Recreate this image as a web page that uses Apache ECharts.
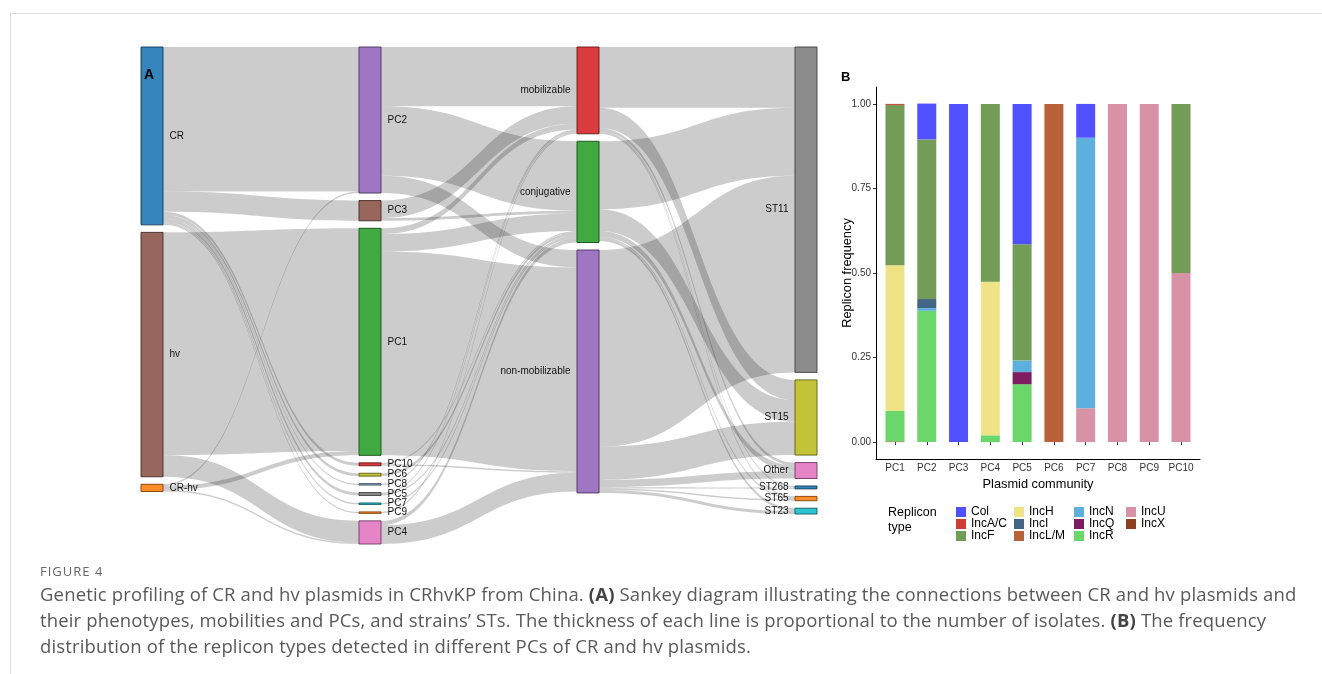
<!DOCTYPE html>
<html>
<head>
<meta charset="utf-8">
<title>Figure 4</title>
<script src="https://cdn.jsdelivr.net/npm/echarts@6/dist/echarts.min.js"></script>
<style>
    html, body { margin: 0; padding: 0; background: #fff; }
    #frame {
        position: absolute; left: 10px; top: 13px; width: 1312px; height: 661px;
        border-top: 1px solid #dcdcdc; border-left: 1px solid #dcdcdc;
    }
    #chart { position: absolute; left: 0; top: 0; width: 1322px; height: 674px; }
    #caption { position: absolute; left: 40px; top: 562px; font-family: 'Open Sans', sans-serif; color: #595959; white-space: nowrap; }
    #caption .fig { font-size: 13px; letter-spacing: 1px; line-height: 18px; color: #666; }
    #caption .txt { font-size: 18.5px; letter-spacing: 0.15px; line-height: 26px; margin-top: 1px; }
    #caption b { color: #444; }
</style>
</head>
<body>
<div id="frame"></div>
<div id="chart"></div>
<div id="caption">
    <div class="fig">FIGURE 4</div>
    <div class="txt">Genetic profiling of CR and hv plasmids in CRhvKP from China. <b>(A)</b> Sankey diagram illustrating the connections between CR and hv plasmids and<br>their phenotypes, mobilities and PCs, and strains’ STs. The thickness of each line is proportional to the number of isolates. <b>(B)</b> The frequency<br>distribution of the replicon types detected in different PCs of CR and hv plasmids.</div>
</div>
<script>
(function (window) {
    'use strict';

    // ---- panel A: sankey nodes, one array per column (top to bottom) ----
    var phenotypes = ['CR', 'hv', 'CR-hv'];
    var communities = ['PC2', 'PC3', 'PC1', 'PC10', 'PC6', 'PC8', 'PC5', 'PC7', 'PC9', 'PC4'];
    var mobilities = ['mobilizable', 'conjugative', 'non-mobilizable'];
    var strainTypes = ['ST11', 'ST15', 'Other', 'ST268', 'ST65', 'ST23'];

    // flows (number of isolates)
    var phenotypeToPc = [
        ['CR', 'PC2', 100], ['CR', 'PC3', 14],
        ['CR', 'PC10', 2], ['CR', 'PC6', 2], ['CR', 'PC8', 1],
        ['CR', 'PC5', 2], ['CR', 'PC7', 1], ['CR', 'PC9', 1],
        ['hv', 'PC1', 154], ['hv', 'PC4', 15],
        ['CR-hv', 'PC2', 1], ['CR-hv', 'PC1', 3], ['CR-hv', 'PC4', 1]
    ];
    var pcToMobility = [
        ['PC2', 'mobilizable', 41], ['PC2', 'conjugative', 48], ['PC2', 'non-mobilizable', 12],
        ['PC3', 'mobilizable', 12], ['PC3', 'conjugative', 2],
        ['PC1', 'mobilizable', 4], ['PC1', 'conjugative', 12], ['PC1', 'non-mobilizable', 141],
        ['PC10', 'conjugative', 1], ['PC10', 'non-mobilizable', 1],
        ['PC6', 'conjugative', 2],
        ['PC8', 'mobilizable', 1],
        ['PC5', 'mobilizable', 1], ['PC5', 'conjugative', 1],
        ['PC7', 'conjugative', 1],
        ['PC9', 'mobilizable', 1],
        ['PC4', 'conjugative', 3], ['PC4', 'non-mobilizable', 13]
    ];
    var mobilityToSt = [
        ['mobilizable', 'ST11', 42], ['mobilizable', 'ST15', 14], ['mobilizable', 'Other', 2],
        ['mobilizable', 'ST268', 1], ['mobilizable', 'ST65', 1],
        ['conjugative', 'ST11', 47], ['conjugative', 'ST15', 15], ['conjugative', 'Other', 4],
        ['conjugative', 'ST65', 1], ['conjugative', 'ST23', 2],
        ['non-mobilizable', 'ST11', 136], ['non-mobilizable', 'ST15', 23], ['non-mobilizable', 'Other', 5],
        ['non-mobilizable', 'ST268', 1], ['non-mobilizable', 'ST65', 1], ['non-mobilizable', 'ST23', 2]
    ];

    // ---- panel B: replicon frequency per plasmid community ----
    var pcLabels = ['PC1', 'PC2', 'PC3', 'PC4', 'PC5', 'PC6', 'PC7', 'PC8', 'PC9', 'PC10'];
    var freqTicks = [0, 0.25, 0.5, 0.75, 1];
    var repliconTypes = ['Col', 'IncA/C', 'IncF', 'IncH', 'IncI', 'IncL/M', 'IncN', 'IncQ', 'IncR', 'IncU', 'IncX'];
    var colFreq   = [0, 0.106, 1, 0, 0.415, 0, 0.10, 0, 0, 0];
    var incACFreq = [0.003, 0, 0, 0, 0, 0, 0, 0, 0, 0];
    var incFFreq  = [0.474, 0.472, 0, 0.526, 0.344, 0, 0, 0, 0, 0.5];
    var incHFreq  = [0.431, 0, 0, 0.454, 0, 0, 0, 0, 0, 0];
    var incIFreq  = [0, 0.027, 0, 0, 0, 0, 0, 0, 0, 0];
    var incLMFreq = [0, 0, 0, 0, 0, 1, 0, 0, 0, 0];
    var incNFreq  = [0, 0.008, 0, 0, 0.034, 0, 0.80, 0, 0, 0];
    var incQFreq  = [0, 0, 0, 0, 0.036, 0, 0, 0, 0, 0];
    var incRFreq  = [0.090, 0.388, 0, 0.020, 0.171, 0, 0, 0, 0, 0];
    var incUFreq  = [0, 0, 0, 0, 0, 0, 0.10, 1, 1, 0.5];
    var incXFreq  = [0.002, 0, 0, 0, 0, 0, 0, 0, 0, 0];

    var repliconValues = [colFreq, incACFreq, incFFreq, incHFreq, incIFreq, incLMFreq,
        incNFreq, incQFreq, incRFreq, incUFreq, incXFreq];
    var repliconColors = ['#5050ff', '#d03c33', '#739d56', '#f0e386', '#436685', '#b9623a',
        '#5db0dd', '#7e1e60', '#6ad76a', '#d792a6', '#8c4021'];

    var nodeColors = {
        'CR': '#1f77b4', 'hv': '#8c564b', 'CR-hv': '#ff7f0e',
        'PC2': '#9467bd', 'PC3': '#8c564b', 'PC1': '#2ca02c', 'PC10': '#d62728',
        'PC6': '#bcbd22', 'PC8': '#7ea6c9', 'PC5': '#7f7f7f', 'PC7': '#17becf',
        'PC9': '#ff7f0e', 'PC4': '#e377c2',
        'mobilizable': '#d62728', 'conjugative': '#2ca02c', 'non-mobilizable': '#9467bd',
        'ST11': '#7f7f7f', 'ST15': '#bcbd22', 'Other': '#e377c2',
        'ST268': '#1f77b4', 'ST65': '#ff7f0e', 'ST23': '#17becf'
    };
    var font = 'Liberation Sans';

    function darker(hex) {
        var k = 0.49;
        var r = Math.round(parseInt(hex.substr(1, 2), 16) * k);
        var g = Math.round(parseInt(hex.substr(3, 2), 16) * k);
        var b = Math.round(parseInt(hex.substr(5, 2), 16) * k);
        return 'rgb(' + r + ',' + g + ',' + b + ')';
    }

    var nodes = [];
    [phenotypes, communities, mobilities, strainTypes].forEach(function (column, ci) {
        column.forEach(function (name) {
            nodes.push({
                name: name,
                itemStyle: { color: nodeColors[name], borderColor: darker(nodeColors[name]) },
                label: { position: ci < 2 ? 'right' : 'left' }
            });
        });
    });
    var links = [];
    phenotypeToPc.concat(pcToMobility, mobilityToSt).forEach(function (l) {
        links.push({ source: l[0], target: l[1], value: l[2] });
    });

    // stacked from the bottom: last replicon type first
    var barSeries = [];
    for (var i = repliconTypes.length - 1; i >= 0; i--) {
        barSeries.push({
            type: 'bar',
            name: repliconTypes[i],
            stack: 'freq',
            barWidth: 19,
            silent: true,
            xAxisIndex: 0,
            yAxisIndex: 0,
            itemStyle: { color: repliconColors[i] },
            emphasis: { disabled: true },
            data: repliconValues[i]
        });
    }

    var legendGroups = [['Col', 'IncA/C', 'IncF'], ['IncH', 'IncI', 'IncL/M'], ['IncN', 'IncQ', 'IncR'], ['IncU', 'IncX']];
    var legendLefts = [956, 1014, 1074, 1126];
    var legends = legendGroups.map(function (g, gi) {
        return {
            data: g,
            orient: 'vertical',
            left: legendLefts[gi],
            top: 506,
            padding: 0,
            itemWidth: 10,
            itemHeight: 10,
            itemGap: 0,
            icon: 'rect',
            selectedMode: false,
            textStyle: { fontSize: 12, color: '#000', fontFamily: font, lineHeight: 12 }
        };
    });

    var tickLabelStyle = { fontSize: 10, color: '#333', fontFamily: font };

    var chart = echarts.init(document.getElementById('chart'));
    var option = {
        animation: false,
        backgroundColor: 'transparent',
        textStyle: { fontFamily: font },
        legend: legends,
        grid: [
            // bars: ten category bands
            { left: 879.1, top: 87, width: 317.8, height: 372 },
            // full panel incl. ggplot-style expansion, carries the axis lines
            { left: 876, top: 87, width: 324, height: 372 }
        ],
        xAxis: [{
            type: 'category',
            gridIndex: 0,
            data: pcLabels,
            axisLine: { show: false },
            axisTick: { show: true, interval: 0, alignWithLabel: true, length: 3, lineStyle: { color: '#333' } },
            axisLabel: Object.assign({ interval: 0, margin: 4 }, tickLabelStyle)
        }, {
            type: 'value',
            gridIndex: 1,
            min: 0,
            max: 1,
            splitLine: { show: false },
            axisLine: { show: true, onZero: false, lineStyle: { color: '#000', width: 1 } },
            axisTick: { show: false },
            axisLabel: { show: false }
        }],
        yAxis: [{
            type: 'value',
            gridIndex: 0,
            min: -0.05,
            max: 1.05,
            show: false
        }, {
            type: 'value',
            gridIndex: 1,
            min: -0.05,
            max: 1.05,
            splitLine: { show: false },
            axisLine: { show: true, onZero: false, lineStyle: { color: '#000', width: 1 } },
            axisTick: { show: true, length: 3, customValues: freqTicks, lineStyle: { color: '#333' } },
            axisLabel: Object.assign({
                customValues: freqTicks,
                formatter: function (v) { return v.toFixed(2); },
                margin: 5
            }, tickLabelStyle)
        }],
        graphic: [
            { type: 'text', left: 144, top: 68, z: 100, style: { text: 'A', font: 'bold 14px "Liberation Sans"', fill: '#000' } },
            { type: 'text', left: 841, top: 71, z: 100, style: { text: 'B', font: 'bold 13px "Liberation Sans"', fill: '#000' } },
            {
                type: 'text', x: 847, y: 273, rotation: Math.PI / 2,
                style: { text: 'Replicon frequency', font: '12.8px "Liberation Sans"', fill: '#000', align: 'center', verticalAlign: 'middle' }
            },
            {
                type: 'text', x: 1038, y: 484,
                style: { text: 'Plasmid community', font: '12.8px "Liberation Sans"', fill: '#000', align: 'center', verticalAlign: 'middle' }
            },
            {
                type: 'text', x: 888, y: 505,
                style: { text: 'Replicon\ntype', font: '12.5px "Liberation Sans"', lineHeight: 15, fill: '#000' }
            }
        ],
        series: barSeries.concat([{
            type: 'sankey',
            left: 141,
            top: 47,
            right: 505,
            bottom: 130,
            nodeWidth: 22,
            nodeGap: 7.5,
            // keep the column order as listed above
            layoutIterations: 0,
            draggable: false,
            emphasis: { disabled: true },
            data: nodes,
            links: links,
            itemStyle: { opacity: 0.9, borderWidth: 1 },
            lineStyle: { color: '#000', opacity: 0.2, curveness: 0.5 },
            label: { fontSize: 10, color: '#111', fontFamily: font, distance: 6 }
        }])
    };
    chart.setOption(option);
})(window);
</script>
</body>
</html>
